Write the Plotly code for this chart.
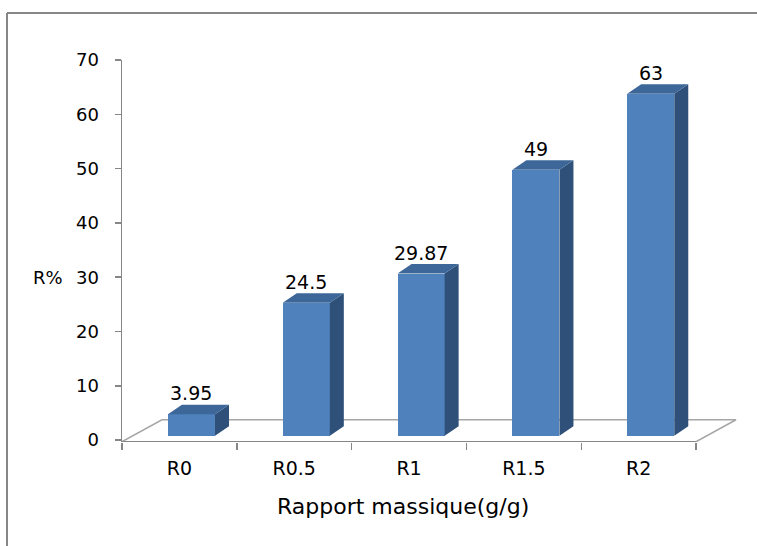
import plotly.graph_objects as go

# Yield R% per mass ratio
categories = ["R0", "R0.5", "R1", "R1.5", "R2"]
values = [3.95, 24.5, 29.87, 49, 63]
value_labels = ["3.95", "24.5", "29.87", "49", "63"]
y_ticks = [0, 10, 20, 30, 40, 50, 60, 70]

# pseudo-3D geometry, in axis units
BAR_W = 0.41            # width of the front face
FRONT_DX = 0.105        # front face shift into the floor
FRONT_BASE = 0.8        # front face bottom raised by the floor depth
DEPTH_DX, DEPTH_DY = 0.122, 1.75     # bar depth (side / top faces)
FLOOR_Y = -0.3
FLOOR_DX, FLOOR_DY = 0.348, 4.05

C_FRONT = "#4F81BD"
C_TOP = "#3C6798"
C_SIDE = "#2E5079"
C_AXIS = "#868686"
C_FLOOR = "#A6A6A6"
FONT = "DejaVu Sans"

n = len(categories)
xs = list(range(n))
x_lo, x_hi = -0.5, n - 0.5

fig = go.Figure()

# front faces
fig.add_trace(go.Bar(
    x=[i + FRONT_DX for i in xs], y=values, base=FRONT_BASE, width=BAR_W,
    marker=dict(color=C_FRONT, line=dict(width=0)), hoverinfo="skip", showlegend=False,
))

# side and top faces
for i, v in zip(xs, values):
    xl = i + FRONT_DX - BAR_W / 2
    xr = i + FRONT_DX + BAR_W / 2
    yb = FRONT_BASE
    yt = FRONT_BASE + v
    fig.add_trace(go.Scatter(
        x=[xr, xr + DEPTH_DX, xr + DEPTH_DX, xr, xr],
        y=[yb, yb + DEPTH_DY, yt + DEPTH_DY, yt, yb],
        fill="toself", fillcolor=C_SIDE, mode="lines", line=dict(width=0),
        hoverinfo="skip", showlegend=False,
    ))
    fig.add_trace(go.Scatter(
        x=[xl, xr, xr + DEPTH_DX, xl + DEPTH_DX, xl],
        y=[yt, yt, yt + DEPTH_DY, yt + DEPTH_DY, yt],
        fill="toself", fillcolor=C_TOP, mode="lines", line=dict(width=0),
        hoverinfo="skip", showlegend=False,
    ))

# floor outline, behind the bars
floor_pts = [
    (x_lo, FLOOR_Y), (x_hi, FLOOR_Y),
    (x_hi + FLOOR_DX, FLOOR_Y + FLOOR_DY), (x_lo + FLOOR_DX, FLOOR_Y + FLOOR_DY),
]
path = "M " + " L ".join(f"{px},{py}" for px, py in floor_pts) + " Z"
shapes = [dict(type="path", path=path, xref="x", yref="y", layer="below",
               line=dict(color=C_FLOOR, width=1.5))]
# front floor edge in axis colour
shapes.append(dict(type="line", xref="x", yref="y", x0=x_lo, x1=x_hi, y0=FLOOR_Y, y1=FLOOR_Y,
                   layer="below", line=dict(color=C_AXIS, width=1.5)))

# outer chart frame (left and top edges inside the page)
l_px, r_px, t_px, b_px = 122, 15, 60, 104
W, H = 757, 546
pw, ph = W - l_px - r_px, H - t_px - b_px
frame_x0 = (7 - l_px) / pw
frame_y_top = (H - b_px - 13) / ph
frame_y_bot = (H - b_px - (H + 40)) / ph
shapes.append(dict(type="line", xref="paper", yref="paper",
                   x0=frame_x0, x1=(W + 40 - l_px) / pw, y0=frame_y_top, y1=frame_y_top,
                   line=dict(color="#878787", width=2), layer="below"))
shapes.append(dict(type="line", xref="paper", yref="paper",
                   x0=frame_x0, x1=frame_x0, y0=frame_y_top, y1=frame_y_bot,
                   line=dict(color="#878787", width=2), layer="below"))

annotations = []
for i, v, t in zip(xs, values, value_labels):
    annotations.append(dict(
        x=i + FRONT_DX, y=FRONT_BASE + v, xref="x", yref="y", text=t,
        showarrow=False, yanchor="bottom", yshift=8,
        font=dict(family=FONT, size=19, color="#000000"),
    ))
annotations.append(dict(
    x=(48 - l_px) / pw, y=30, xref="paper", yref="y", text="R%",
    showarrow=False, xanchor="center", yanchor="middle",
    font=dict(family=FONT, size=18, color="#000000"),
))
annotations.append(dict(
    x=(403 - l_px) / pw, y=(H - b_px - 506) / ph, xref="paper", yref="paper",
    text="Rapport massique(g/g)", showarrow=False, xanchor="center", yanchor="middle",
    font=dict(family=FONT, size=22, color="#000000"),
))

fig.update_layout(
    width=W, height=H,
    margin=dict(l=l_px, r=r_px, t=t_px, b=b_px, pad=0),
    paper_bgcolor="white", plot_bgcolor="white",
    showlegend=False, bargap=0,
    shapes=shapes, annotations=annotations,
    xaxis=dict(
        range=[x_lo, 4.9], tickmode="array", tickvals=xs, ticktext=categories,
        ticks="", showline=False, showgrid=False, zeroline=False,
        tickfont=dict(family=FONT, size=19, color="#000000"),
        ticklabelstandoff=13,
        minor=dict(tickmode="array", tickvals=[k - 0.5 for k in range(n + 1)],
                   ticks="outside", ticklen=7, tickcolor=C_AXIS, tickwidth=1.5,
                   showgrid=False),
        fixedrange=True,
    ),
    yaxis=dict(
        range=[-0.35, 70], tickmode="array", tickvals=y_ticks,
        ticks="outside", ticklen=6, tickcolor=C_AXIS, tickwidth=1.5,
        showline=True, linecolor=C_AXIS, linewidth=1.5,
        showgrid=False, zeroline=False,
        tickfont=dict(family=FONT, size=18, color="#000000"),
        ticklabelstandoff=12,
        fixedrange=True,
    ),
)

fig.write_html("out.html", config={"displayModeBar": False, "staticPlot": True})
